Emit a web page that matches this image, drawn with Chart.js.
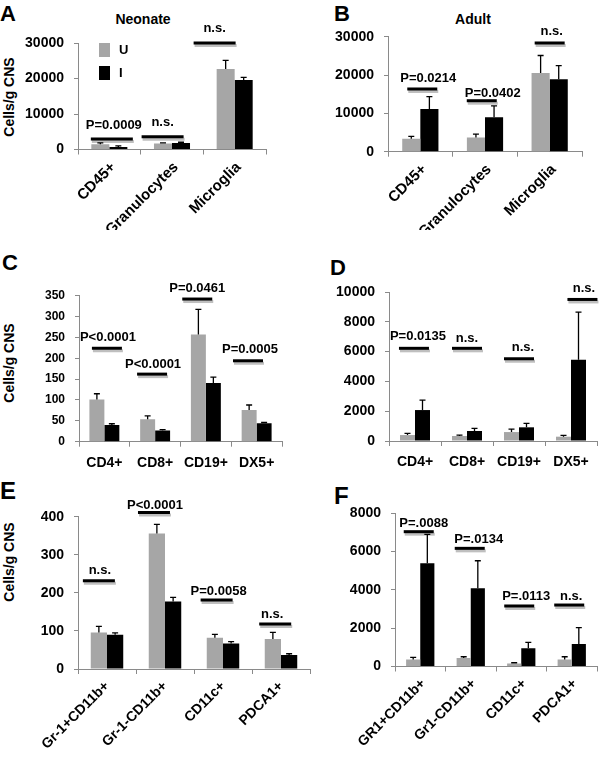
<!DOCTYPE html>
<html><head><meta charset="utf-8">
<script src="https://cdn.jsdelivr.net/npm/chart.js@4/dist/chart.umd.min.js"></script>
<style>
html,body{margin:0;padding:0;background:#fff;}
#wrap{position:relative;width:600px;height:759px;overflow:hidden;background:#fff;font-family:"Liberation Sans",Arial,Helvetica,sans-serif;font-weight:bold;color:#000;}
canvas{position:absolute;}
.lt{position:absolute;font-size:22px;line-height:1;}
.tt{position:absolute;font-size:14px;line-height:1;transform:translateX(-50%);white-space:nowrap;}
.yt{position:absolute;font-size:14px;line-height:1;white-space:nowrap;transform:translate(-50%,-50%) rotate(-90deg);}
</style></head>
<body><div id="wrap">
<div class="lt" style="left:0px;top:3px">A</div>
<div class="lt" style="left:334px;top:3px">B</div>
<div class="lt" style="left:2px;top:252px">C</div>
<div class="lt" style="left:330px;top:257px">D</div>
<div class="lt" style="left:0px;top:479px;font-size:24px">E</div>
<div class="lt" style="left:334px;top:484px;font-size:24px">F</div>
<div class="tt" style="left:143px;top:12px">Neonate</div>
<div class="tt" style="left:473px;top:12px">Adult</div>
<div class="yt" style="left:9px;top:97px">Cells/g CNS</div>
<div class="yt" style="left:9px;top:363px">Cells/g CNS</div>
<div class="yt" style="left:9px;top:562px">Cells/g CNS</div>
<canvas id="cA" width="300" height="230" style="left:0;top:0"></canvas>
<canvas id="cB" width="300" height="230" style="left:300px;top:0"></canvas>
<canvas id="cC" width="300" height="258" style="left:0;top:230px"></canvas>
<canvas id="cD" width="300" height="258" style="left:300px;top:230px"></canvas>
<canvas id="cE" width="315" height="271" style="left:0;top:488px"></canvas>
<canvas id="cF" width="300" height="271" style="left:300px;top:488px"></canvas>
</div>
<script>
// ---------- DATA ----------
const seriesNames = ['U', 'I'];

// A: Neonate
const catsA = ['CD45+', 'Granulocytes', 'Microglia'];
const uA = [1480, 1680, 22700];
const uErrA = [370, 170, 2430];
const iA = [730, 1850, 19580];
const iErrA = [280, 190, 760];
const ticksA = [0, 10000, 20000, 30000];
const sigA = ['P=0.0009', 'n.s.', 'n.s.'];
const sigLevelA = [2960, 3600, 30000];

// B: Adult
const catsB = ['CD45+', 'Granulocytes', 'Microglia'];
const uB = [3400, 3700, 20500];
const uErrB = [600, 860, 4600];
const iB = [11150, 8980, 18900];
const iErrB = [3200, 2950, 3550];
const ticksB = [0, 10000, 20000, 30000];
const sigB = ['P=0.0214', 'P=0.0402', 'n.s.'];
const sigLevelB = [16360, 13300, 28360];

// C
const catsC = ['CD4+', 'CD8+', 'CD19+', 'DX5+'];
const uC = [101, 54, 257, 76];
const uErrC = [14, 8, 60, 12];
const iC = [40, 27, 141, 44];
const iErrC = [3, 2, 14, 2];
const ticksC = [0, 50, 100, 150, 200, 250, 300, 350];
const sigC = ['P<0.0001', 'P<0.0001', 'P=0.0461', 'P=0.0005'];
const sigLevelC = [224, 162, 342, 194];

// D
const catsD = ['CD4+', 'CD8+', 'CD19+', 'DX5+'];
const uD = [400, 335, 600, 290];
const uErrD = [115, 65, 200, 90];
const iD = [2077, 670, 918, 5456];
const iErrD = [670, 180, 270, 3200];
const ticksD = [0, 2000, 4000, 6000, 8000, 10000];
const sigD = ['P=0.0135', 'n.s.', 'n.s.', 'n.s.'];
const sigLevelD = [6220, 6220, 5520, 9500];

// E
const catsE = ['Gr-1+CD11b+', 'Gr-1-CD11b+', 'CD11c+', 'PDCA1+'];
const uE = [96, 356, 82, 79];
const uErrE = [16, 24, 9, 17];
const iE = [90, 177, 67, 37];
const iErrE = [5, 11, 5, 3];
const ticksE = [0, 100, 200, 300, 400];
const sigE = ['n.s.', 'P<0.0001', 'P=0.0058', 'n.s.'];
const sigLevelE = [232, 411, 181, 118];

// F
const catsF = ['GR1+CD11b+', 'Gr1-CD11b+', 'CD11c+', 'PDCA1+'];
const uF = [370, 440, 160, 370];
const uErrF = [110, 70, 35, 140];
const iF = [5390, 4083, 950, 1175];
const iErrF = [1510, 1440, 310, 850];
const ticksF = [0, 2000, 4000, 6000, 8000];
const sigF = ['P=.0088', 'P=.0134', 'P=.0113', 'n.s.'];
const sigLevelF = [7040, 6170, 3160, 3210];

// ---------- STYLE / LAYOUT ----------
const FONT = '"Liberation Sans", Arial, Helvetica, sans-serif';
const GRAY = '#a6a6a6';
const AXIS = '#8a8a8a';

const extras = {
  id: 'extras',
  afterDatasetsDraw(chart, args, o) {
    const ctx = chart.ctx, xs = chart.scales.x, ys = chart.scales.y;
    ctx.save();
    chart.data.datasets.forEach((ds, di) => {
      const meta = chart.getDatasetMeta(di);
      meta.data.forEach((bar, i) => {
        const y1 = ys.getPixelForValue(ds.data[i] + o.errs[di][i]);
        ctx.strokeStyle = '#000'; ctx.lineWidth = 1.3;
        ctx.beginPath();
        ctx.moveTo(bar.x, bar.y); ctx.lineTo(bar.x, y1);
        ctx.moveTo(bar.x - o.cap, y1); ctx.lineTo(bar.x + o.cap, y1);
        ctx.stroke();
      });
    });
    o.sigLabels.forEach((lab, i) => {
      const cx = xs.getPixelForValue(o.sigPos[i]);
      const y = ys.getPixelForValue(o.sigLevels[i]);
      const hw = o.half;
      ctx.strokeStyle = 'rgba(0,0,0,0.25)'; ctx.lineWidth = 3;
      ctx.beginPath(); ctx.moveTo(cx - hw + 1, y + 2.5); ctx.lineTo(cx + hw + 1, y + 2.5); ctx.stroke();
      ctx.strokeStyle = '#000'; ctx.lineWidth = 3;
      ctx.beginPath(); ctx.moveTo(cx - hw, y); ctx.lineTo(cx + hw, y); ctx.stroke();
      ctx.fillStyle = '#000';
      ctx.font = 'bold 13px ' + FONT;
      ctx.textAlign = 'center'; ctx.textBaseline = 'alphabetic';
      ctx.fillText(lab, cx + o.textDx[i], y - o.gap[i]);
    });
    if (o.legend) {
      const a = chart.chartArea;
      chart.data.datasets.forEach((ds, di) => {
        const lx = a.left + 21, ly = a.top + di * 23;
        ctx.fillStyle = ds.backgroundColor;
        ctx.fillRect(lx, ly, 11, 14);
        ctx.fillStyle = '#000';
        ctx.font = 'bold 13px ' + FONT;
        ctx.textAlign = 'left'; ctx.textBaseline = 'middle';
        ctx.fillText(ds.label, lx + 20, ly + 7.5);
      });
    }
    ctx.restore();
  }
};

function makeChart(id, cats, u, uErr, iv, iErr, ticks, sigLabels, sigLevels, L) {
  const cv = document.getElementById(id);
  const W = cv.width, H = cv.height;
  return new Chart(cv, {
    type: 'bar',
    data: {
      labels: cats,
      datasets: [
        { label: seriesNames[0], data: u, backgroundColor: GRAY, borderWidth: 0 },
        { label: seriesNames[1], data: iv, backgroundColor: '#000', borderWidth: 0 }
      ]
    },
    options: {
      responsive: false, animation: false, events: [],
      layout: { padding: { left: 0, top: L.top, right: W - L.right, bottom: 0 } },
      datasets: { bar: { categoryPercentage: L.catPct, barPercentage: 1 } },
      plugins: {
        legend: { display: false }, tooltip: { enabled: false }, title: { display: false },
        extras: {
          errs: [uErr, iErr], cap: L.cap, half: L.half,
          sigLabels: sigLabels, sigLevels: sigLevels, sigPos: L.sigPos,
          textDx: L.textDx, gap: L.gap, legend: !!L.legend
        }
      },
      scales: {
        x: {
          grid: { display: true, drawOnChartArea: false, drawTicks: true, tickLength: 5, color: AXIS, offset: true },
          border: { display: true, color: AXIS, width: 1 },
          ticks: { color: '#000', autoSkip: false, font: { family: FONT, weight: 'bold', size: L.xFont },
                   minRotation: L.rot, maxRotation: L.rot, padding: L.xPad, labelOffset: L.lblOff || 0 },
          afterFit(s) { s.height = H - L.bottom; s.paddingLeft = 0; s.paddingRight = 0; }
        },
        y: {
          min: ticks[0], max: ticks[ticks.length - 1],
          afterBuildTicks(s) { s.ticks = ticks.map(v => ({ value: v })); },
          grid: { display: true, drawOnChartArea: false, drawTicks: true, tickLength: 4, color: AXIS },
          border: { display: true, color: AXIS, width: 1 },
          ticks: { color: '#000', font: { family: FONT, weight: 'bold', size: L.yFont }, padding: 10,
                   callback: v => String(v) },
          afterFit(s) { s.width = L.left; s.paddingTop = 0; s.paddingBottom = 0; }
        }
      }
    },
    plugins: [extras]
  });
}

makeChart('cA', catsA, uA, uErrA, iA, iErrA, ticksA, sigA, sigLevelA,
  { left: 78, top: 43, right: 266, bottom: 149.5, catPct: 0.575, cap: 3, half: 21, rot: 45, xFont: 15, yFont: 14, xPad: 4, lblOff: 4,
    sigPos: [0.04, 0.85, 1.68], textDx: [2, 0, 0], gap: [10, 10.5, 10.7], legend: true });
makeChart('cB', catsB, uB, uErrB, iB, iErrB, ticksB, sigB, sigLevelB,
  { left: 88, top: 36.7, right: 282, bottom: 151.7, catPct: 0.56, cap: 3, half: 15, rot: 45, xFont: 15, yFont: 14, xPad: 4, lblOff: 4,
    sigPos: [0.03, 0.95, 2.0], textDx: [6, 11, 2], gap: [7.3, 4, 8] });
makeChart('cC', catsC, uC, uErrC, iC, iErrC, ticksC, sigC, sigLevelC,
  { left: 79, top: 65.7, right: 282, bottom: 211.7, catPct: 0.59, cap: 3, half: 15, rot: 0, xFont: 14, yFont: 12, xPad: 8,
    sigPos: [0.05, 0.94, 1.83, 2.83], textDx: [1, 1, 0, 2], gap: [7.6, 5.7, 7, 7.4] });
makeChart('cD', catsD, uD, uErrD, iD, iErrD, ticksD, sigD, sigLevelD,
  { left: 89, top: 62, right: 297, bottom: 211, catPct: 0.577, cap: 3, half: 15, rot: 0, xFont: 14, yFont: 14, xPad: 8,
    sigPos: [-0.02, 1.0, 2.0, 3.22], textDx: [4, 0, 4, 1.5], gap: [8.3, 6.6, 7.7, 7.6] });
makeChart('cE', catsE, uE, uErrE, iE, iErrE, ticksE, sigE, sigLevelE,
  { left: 78, top: 28.7, right: 310, bottom: 181, catPct: 0.56, cap: 3, half: 16, rot: 45, xFont: 14, yFont: 14, xPad: 4,
    sigPos: [-0.14, 0.81, 1.89, 2.9], textDx: [1, 1, 2, -3], gap: [6.7, 4, 5, 6] });
makeChart('cF', catsF, uF, uErrF, iF, iErrF, ticksF, sigF, sigLevelF,
  { left: 95, top: 25.3, right: 297, bottom: 178.5, catPct: 0.56, cap: 3, half: 15, rot: 45, xFont: 14, yFont: 14, xPad: 4, lblOff: 3,
    sigPos: [-0.03, 0.98, 1.96, 2.95], textDx: [5, 9, 7, 2], gap: [4.4, 5, 6, 5] });
</script>
</body></html>
